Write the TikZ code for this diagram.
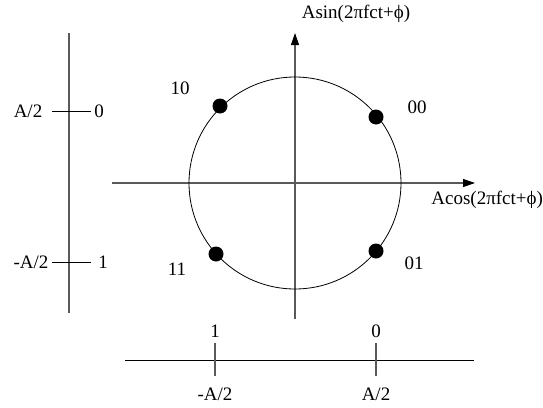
\documentclass[tikz,border=0pt]{standalone}
\usepackage{fontspec}
\setmainfont{Liberation Serif}
\usetikzlibrary{arrows.meta}

\begin{document}
\begin{tikzpicture}[x=1pt, y=-1pt, line width=0.8pt,
    every node/.style={font=\fontsize{19}{21}\selectfont, inner sep=0pt},
    axisline/.style={black!65, line width=1.1pt},
    ticksline/.style={black, line width=1pt},
    symdot/.style={circle, fill=black, minimum size=15pt},
    axisarrow/.style={-{Triangle[length=12pt,width=8pt,color=black]}}]
    \useasboundingbox (0,0) rectangle (543,407);
    % signal space
    \coordinate (O) at (295,183);
    \coordinate (xl) at (112,183);
    \coordinate (xr) at (475,183);
    \coordinate (yb) at (295,319);
    \coordinate (yt) at (295,33);
    \draw[axisline, axisarrow] (xl) -- (xr);
    \draw[axisline, axisarrow] (yb) -- (yt);
    \draw (O) circle[radius=106pt];
    \node[anchor=west] (cosl) at (431,200) {Acos(2πfct+ϕ)};
    \node (sinl) at (356,14) {Asin(2πfct+ϕ)};
    % symbols
    \node[symdot] (p10) at (220,106) {};
    \node[symdot] (p00) at (376,117) {};
    \node[symdot] (p11) at (216,254) {};
    \node[symdot] (p01) at (376,251) {};
    \node (l10) at (180,88) {10};
    \node (l00) at (417,107) {00};
    \node (l11) at (177,269) {11};
    \node (l01) at (414,263) {01};
    % left scale
    \coordinate (vt) at (69,33);
    \coordinate (vb) at (69,313);
    \draw[axisline] (vt) -- (vb);
    \coordinate (ta1) at (52,111);
    \coordinate (ta2) at (91,111);
    \coordinate (tb1) at (52,262);
    \coordinate (tb2) at (91,262);
    \draw[ticksline] (ta1) -- (ta2);
    \draw[ticksline] (tb1) -- (tb2);
    \node (va) at (28,111) {A/2};
    \node (v0) at (99,111) {0};
    \node (vb2) at (31,262) {-A/2};
    \node (v1) at (103,262) {1};
    % bottom scale
    \coordinate (hl) at (125,360);
    \coordinate (hr) at (474,360);
    \draw[ticksline] (hl) -- (hr);
    \coordinate (ua1) at (215,343);
    \coordinate (ua2) at (215,376);
    \coordinate (ub1) at (376,343);
    \coordinate (ub2) at (376,376);
    \draw[axisline] (ua1) -- (ua2);
    \draw[axisline] (ub1) -- (ub2);
    \node (h1) at (215,331) {1};
    \node (h0) at (376,331) {0};
    \node (hm) at (215,394) {-A/2};
    \node (hp) at (376,394) {A/2};
\end{tikzpicture}
\end{document}
